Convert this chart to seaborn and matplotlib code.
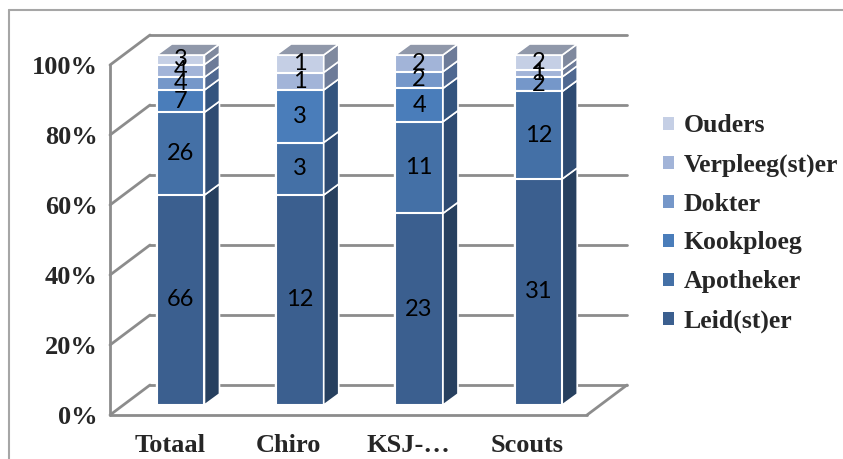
import numpy as np
import pandas as pd
import matplotlib
matplotlib.use("Agg")
import matplotlib.pyplot as plt
import matplotlib.transforms as mtransforms
from matplotlib.patches import Polygon, Patch
from matplotlib.lines import Line2D
import seaborn as sns

# data (counts per group)
groups = ["Totaal", "Chiro", "KSJ-…", "Scouts"]
series = ["Leid(st)er", "Apotheker", "Kookploeg", "Dokter", "Verpleeg(st)er", "Ouders"]
leidster = [66, 12, 23, 31]
apotheker = [26, 3, 11, 12]
kookploeg = [7, 3, 4, 0]
dokter = [4, 0, 2, 2]
verpleegster = [4, 1, 2, 1]
ouders = [3, 1, 0, 2]
y_ticks = [0, 20, 40, 60, 80, 100]
y_ticklabels = ["0%", "20%", "40%", "60%", "80%", "100%"]

front_colors = ["#3b5f8f", "#4470a6", "#4a7dba", "#7597c9", "#a2b4d8", "#c5cfe5"]
side_colors = ["#27405f", "#2e4b72", "#33547e", "#4f6890", "#6d7b98", "#7f899e"]
top_color = "#9098aa"
grid_color = "#8c8c8c"

counts = pd.DataFrame({
    series[0]: leidster, series[1]: apotheker, series[2]: kookploeg,
    series[3]: dokter, series[4]: verpleegster, series[5]: ouders,
}, index=groups)
pct = counts.div(counts.sum(axis=1), axis=0) * 100
cum = pct.cumsum(axis=1)

sns.set_style("white")
plt.rcParams["font.family"] = ["Liberation Serif", "DejaVu Serif"]

fig = plt.figure(figsize=(8.43, 4.59), dpi=100)
ax = fig.add_axes([110 / 843, 44 / 459, 477 / 843, 350 / 459])

# 3d look: offsets in pixels, converted to data units
PX_X = 477 / 4.0   # pixels per category
PX_Y = 350 / 100.0  # pixels per percent
DX, DY = 40 / PX_X, 30 / PX_Y      # back wall depth
BX, BY = 15 / PX_X, 11 / PX_Y      # bar depth

# back wall gridlines + side wall diagonals
for t in y_ticks:
    ax.plot([-0.5 + DX, 3.5 + DX], [t + DY, t + DY], color=grid_color, lw=2, clip_on=False, zorder=1)
    ax.plot([-0.5, -0.5 + DX], [t, t + DY], color=grid_color, lw=2, clip_on=False, zorder=1)
# floor + front axes
ax.plot([-0.5, 3.5], [0, 0], color=grid_color, lw=2, clip_on=False, zorder=1)
ax.plot([3.5, 3.5 + DX], [0, DY], color=grid_color, lw=2, clip_on=False, zorder=1)
ax.plot([-0.5, -0.5], [0, 100], color=grid_color, lw=2, clip_on=False, zorder=1)

# stacked bars: draw cumulative totals from the top down
for i in reversed(range(len(series))):
    sns.barplot(x=groups, y=cum[series[i]].values, color=front_colors[i], saturation=1,
                width=0.4, edgecolor="white", linewidth=1.5, ax=ax, zorder=3)

bar_tr = mtransforms.offset_copy(ax.transData, fig=fig, x=11, y=10, units="dots")
for p in ax.patches:
    p.set_transform(bar_tr)
    p.set_clip_on(False)

first_bars = ax.patches[:len(groups)]
for j, g in enumerate(groups):
    bx = first_bars[j].get_x()
    bw = first_bars[j].get_width()
    xr = bx + bw
    for i, s in enumerate(series):
        v = pct.loc[g, s]
        if v <= 0:
            continue
        y1 = cum.loc[g, s]
        y0 = y1 - v
        side = Polygon([(xr, y0), (xr + BX, y0 + BY), (xr + BX, y1 + BY), (xr, y1)],
                       closed=True, facecolor=side_colors[i], edgecolor="white", lw=1.2,
                       transform=bar_tr, clip_on=False, zorder=3)
        ax.add_patch(side)
        ax.text(bx + bw / 2, (y0 + y1) / 2, str(counts.loc[g, s]), transform=bar_tr,
                ha="center", va="center", fontsize=17, family="Lato", color="black",
                zorder=5, clip_on=False)
    top = Polygon([(bx, 100), (xr, 100), (xr + BX, 100 + BY), (bx + BX, 100 + BY)],
                  closed=True, facecolor=top_color, edgecolor="white", lw=1.2,
                  transform=bar_tr, clip_on=False, zorder=3)
    ax.add_patch(top)

ax.set_xlim(-0.5, 3.5)
ax.set_ylim(0, 100)
for sp in ax.spines.values():
    sp.set_visible(False)

ax.set_yticks(y_ticks)
ax.set_yticklabels(y_ticklabels)
ax.tick_params(axis="y", length=8, width=2, color=grid_color, pad=1,
               labelsize=19)
ax.set_xticks(range(len(groups)))
ax.set_xticklabels(groups)
ax.set_xticks([-0.5, 0.5, 1.5, 2.5, 3.5], minor=True)
ax.tick_params(axis="x", which="major", length=0, pad=14, labelsize=19)
ax.tick_params(axis="x", which="minor", length=8, width=2, color=grid_color)
for lab in ax.get_xticklabels() + ax.get_yticklabels():
    lab.set_fontweight("bold")
ax.set_xlabel("")
ax.set_ylabel("")

handles = [Patch(facecolor=front_colors[i], edgecolor="none") for i in reversed(range(len(series)))]
labels = list(reversed(series))
ax.legend(handles, labels, loc="upper left", bbox_to_anchor=(653 / 843, 1 - 104 / 459),
          bbox_transform=fig.transFigure, frameon=False, borderaxespad=0, borderpad=0.4,
          handlelength=0.4, handleheight=0.4, handletextpad=0.4, labelspacing=0.62,
          prop={"family": "Liberation Serif", "weight": "bold", "size": 18.5})

# chart area border
fig.add_artist(Line2D([9 / 843, 9 / 843], [0, 1 - 10 / 459], color="#a6a6a6", lw=1.5,
                      transform=fig.transFigure))
fig.add_artist(Line2D([9 / 843, 1], [1 - 10 / 459, 1 - 10 / 459], color="#a6a6a6", lw=1.5,
                      transform=fig.transFigure))

fig.savefig("out.png", dpi=100)
